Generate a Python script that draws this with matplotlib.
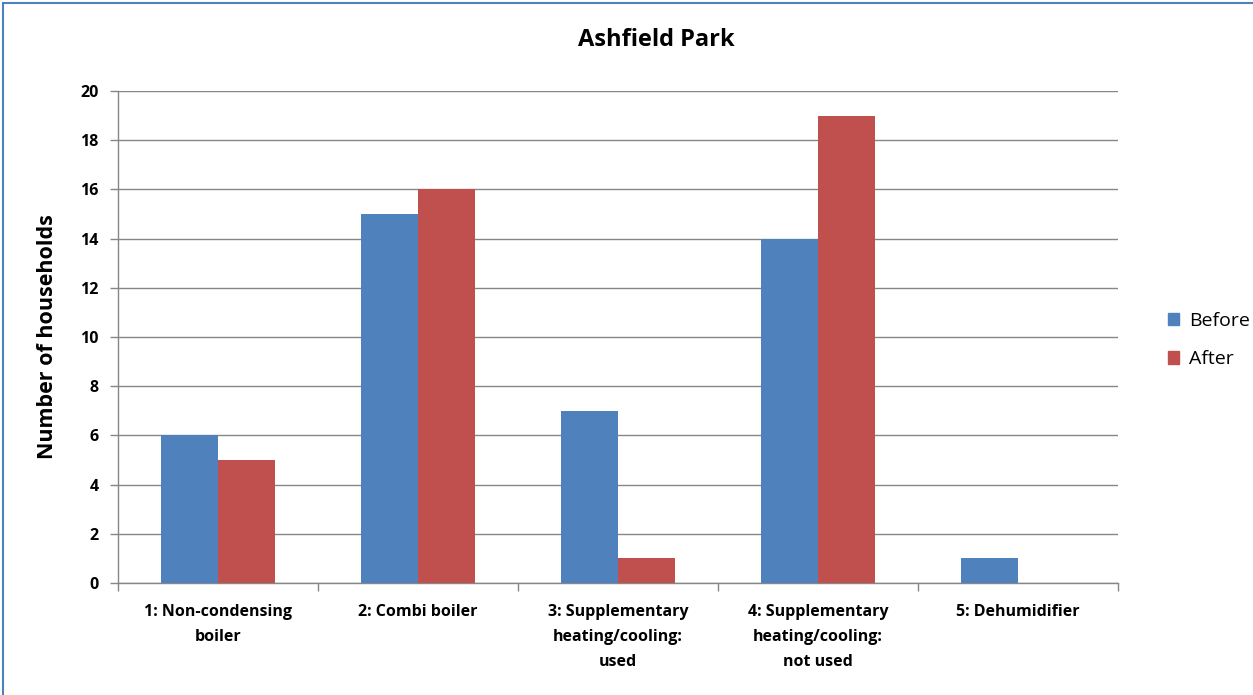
import matplotlib
matplotlib.use("Agg")
import matplotlib.pyplot as plt
import numpy as np
from matplotlib.lines import Line2D

categories = ["1: Non-condensing\nboiler", "2: Combi boiler",
              "3: Supplementary\nheating/cooling:\nused",
              "4: Supplementary\nheating/cooling:\nnot used", "5: Dehumidifier"]
before = [6, 15, 7, 14, 1]
after = [5, 16, 1, 19, 0]
series_names = ["Before", "After"]
colors = ["#4F81BD", "#C0504D"]
title = "Ashfield Park"
ylabel = "Number of households"
yticks = list(range(0, 21, 2))

plt.rcParams['font.family'] = ['Open Sans', 'DejaVu Sans']

fig = plt.figure(figsize=(12.53, 6.95), dpi=100)
ax = fig.add_axes([118/1253, 1-583/695, 1000/1253, 492/695])

x = np.arange(len(categories))
w = 0.285
ax.bar(x - w/2, before, w, color=colors[0], label=series_names[0], zorder=3)
ax.bar(x + w/2, after, w, color=colors[1], label=series_names[1], zorder=3)

ax.set_xlim(-0.5, len(categories) - 0.5)
ax.set_ylim(0, 20)
ax.set_yticks(yticks)
ax.set_yticklabels([str(t) for t in yticks], fontsize=11.5, fontweight='bold')
ax.yaxis.grid(True, color='#868686', linewidth=1, zorder=0)
ax.set_axisbelow(True)

ax.set_xticks(x)
ax.set_xticklabels(categories, fontsize=11.5, fontweight='bold', linespacing=1.75)
ax.set_xticks(np.arange(-0.5, len(categories)), minor=True)
ax.tick_params(axis='x', which='major', length=0, pad=15)
ax.tick_params(axis='x', which='minor', length=6, color='#868686', width=1)
ax.tick_params(axis='y', which='major', length=6, color='#868686', width=1, pad=8)

for s in ['top', 'right']:
    ax.spines[s].set_visible(False)
for s in ['left', 'bottom']:
    ax.spines[s].set_color('#868686')
    ax.spines[s].set_linewidth(1)

ax.set_ylabel(ylabel, fontsize=15.5, fontweight='bold', labelpad=16)
fig.text(656/1253, 1-40/695, title, fontsize=17, fontweight='bold', ha='center', va='center')

handles = [plt.Rectangle((0, 0), 1, 1, color=c) for c in colors]
fig.legend(handles, series_names, loc='center left', bbox_to_anchor=(1150/1253, 1-340/695),
           frameon=False, fontsize=14, handlelength=0.6, handleheight=0.6,
           handletextpad=0.5, labelspacing=1.05)

# figure frame (left and top edges visible)
fig.add_artist(Line2D([3/1253, 3/1253], [0, 1-3/695], color='#4F81BD', lw=1.5, transform=fig.transFigure))
fig.add_artist(Line2D([3/1253, 1], [1-3/695, 1-3/695], color='#4F81BD', lw=1.5, transform=fig.transFigure))

fig.savefig("out.png", dpi=100)
